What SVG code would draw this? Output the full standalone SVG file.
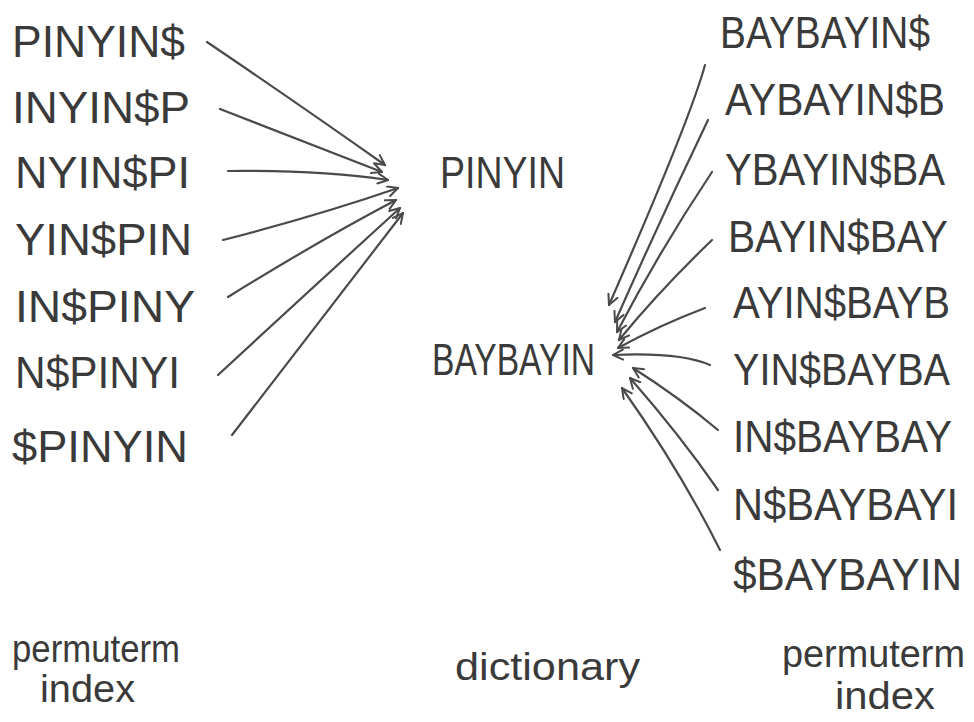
<svg xmlns="http://www.w3.org/2000/svg" width="974" height="722" viewBox="0 0 974 722">
<style>
text{font-family:"Liberation Sans","Noto Sans",sans-serif;fill:#3a3a3a}
.t{font-size:44px}
.l{font-size:38px}
.c path{fill:none;stroke:#4a4a4a;stroke-width:2.2;stroke-linecap:round;marker-end:url(#ah)}
</style>
<defs>
<marker id="ah" viewBox="0 0 12 12" refX="11" refY="6" markerWidth="12" markerHeight="12" markerUnits="userSpaceOnUse" orient="auto">
<path d="M1,1 L11,6 L1,11" fill="none" stroke="#4a4a4a" stroke-width="2" stroke-linecap="round"/>
</marker>
</defs>
<rect width="974" height="722" fill="#fff"/>
<g id="left-index">
<text class="t" x="12" y="57" textLength="173" lengthAdjust="spacingAndGlyphs">PINYIN$</text>
<text class="t" x="12" y="123" textLength="178" lengthAdjust="spacingAndGlyphs">INYIN$P</text>
<text class="t" x="15" y="188" textLength="175" lengthAdjust="spacingAndGlyphs">NYIN$PI</text>
<text class="t" x="15" y="255" textLength="177" lengthAdjust="spacingAndGlyphs">YIN$PIN</text>
<text class="t" x="15" y="322" textLength="180" lengthAdjust="spacingAndGlyphs">IN$PINY</text>
<text class="t" x="15" y="388" textLength="165" lengthAdjust="spacingAndGlyphs">N$PINYI</text>
<text class="t" x="12" y="462" textLength="176" lengthAdjust="spacingAndGlyphs">$PINYIN</text>
</g>
<g id="dictionary">
<text class="t" x="440" y="188" textLength="125" lengthAdjust="spacingAndGlyphs">PINYIN</text>
<text class="t" x="432" y="375" textLength="163" lengthAdjust="spacingAndGlyphs">BAYBAYIN</text>
</g>
<g id="right-index">
<text class="t" x="720" y="48" textLength="210" lengthAdjust="spacingAndGlyphs">BAYBAYIN$</text>
<text class="t" x="725" y="115" textLength="220" lengthAdjust="spacingAndGlyphs">AYBAYIN$B</text>
<text class="t" x="725" y="185" textLength="220" lengthAdjust="spacingAndGlyphs">YBAYIN$BA</text>
<text class="t" x="728" y="252" textLength="220" lengthAdjust="spacingAndGlyphs">BAYIN$BAY</text>
<text class="t" x="733" y="318" textLength="217" lengthAdjust="spacingAndGlyphs">AYIN$BAYB</text>
<text class="t" x="733" y="385" textLength="217" lengthAdjust="spacingAndGlyphs">YIN$BAYBA</text>
<text class="t" x="733" y="452" textLength="219" lengthAdjust="spacingAndGlyphs">IN$BAYBAY</text>
<text class="t" x="733" y="520" textLength="225" lengthAdjust="spacingAndGlyphs">N$BAYBAYI</text>
<text class="t" x="733" y="590" textLength="229" lengthAdjust="spacingAndGlyphs">$BAYBAYIN</text>
</g>
<g id="labels">
<text class="l" x="12" y="662" textLength="168" lengthAdjust="spacingAndGlyphs">permuterm</text>
<text class="l" x="40" y="702" textLength="95" lengthAdjust="spacingAndGlyphs">index</text>
<text class="l" x="455" y="680" textLength="185" lengthAdjust="spacingAndGlyphs">dictionary</text>
<text class="l" x="782" y="667" textLength="183" lengthAdjust="spacingAndGlyphs">permuterm</text>
<text class="l" x="835" y="709" textLength="100" lengthAdjust="spacingAndGlyphs">index</text>
</g>
<g id="connectors" class="c">
<path d="M207,42 Q300,105 385,165"/>
<path d="M220,109 Q300,140 382,172"/>
<path d="M228,171 Q320,170 388,180"/>
<path d="M223,240 Q320,215 398,188"/>
<path d="M228,297 Q320,240 396,200"/>
<path d="M218,375 Q310,290 400,208"/>
<path d="M232,435 Q320,320 403,213"/>
<path d="M705,65 Q690,120 609,305"/>
<path d="M708,120 Q660,220 615,322"/>
<path d="M712,172 Q660,250 617,332"/>
<path d="M712,240 Q660,290 619,340"/>
<path d="M705,308 Q660,325 618,348"/>
<path d="M710,365 Q680,352 613,355"/>
<path d="M718,430 Q680,398 633,368"/>
<path d="M718,490 Q680,435 630,378"/>
<path d="M720,550 Q680,470 622,388"/>
</g>
</svg>
